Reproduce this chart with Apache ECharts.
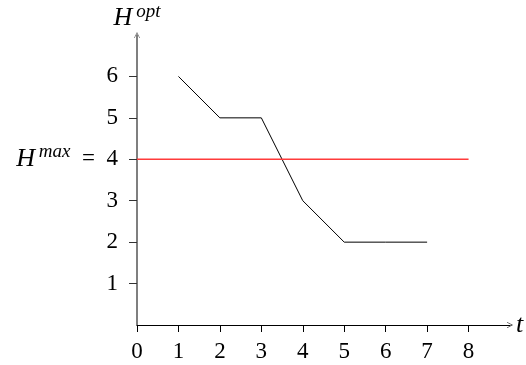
<!DOCTYPE html>
<html>
<head>
<meta charset="utf-8">
<script src="https://cdn.jsdelivr.net/npm/echarts@6/dist/echarts.min.js"></script>
<style>
  html, body { margin: 0; background: #fff; }
  #chart { width: 526px; height: 365px; }
</style>
</head>
<body>
<div id="chart"></div>
<script>
// data
const tValues = [1, 2, 3, 4, 5, 6, 7];
const hOpt = [6, 5, 5, 3, 2, 2, 2];
const hMax = 4;
const hMaxFrom = 0;
const hMaxTo = 8;
const xTicks = [0, 1, 2, 3, 4, 5, 6, 7, 8];
const yTicks = [1, 2, 3, 4, 5, 6];

const serif = '"Liberation Serif", "DejaVu Serif", serif';
const arrow = 'path://M0,10 L5,0 L10,10 L9,10 L5,2 L1,10 Z';

const chart = echarts.init(document.getElementById('chart'), null, { renderer: 'canvas' });

const mathRich = {
  h: { fontFamily: serif, fontStyle: 'italic', fontSize: 26, color: '#000' },
  sup: { fontFamily: serif, fontStyle: 'italic', fontSize: 19, color: '#000', padding: [0, 0, 14, 0] },
  n: { fontFamily: serif, fontSize: 23, color: '#000' }
};

const option = {
  animation: false,
  backgroundColor: '#fff',
  grid: { left: 137, right: 16, top: 35, bottom: 40, containLabel: false, outerBoundsMode: 'none' },
  xAxis: {
    type: 'value',
    min: 0,
    max: 9,
    interval: 1,
    splitLine: { show: false },
    axisLine: { lineStyle: { color: '#000', width: 1 }, symbol: ['none', arrow], symbolSize: [8, 6] },
    axisTick: { show: true, length: 7, inside: false, customValues: xTicks, lineStyle: { color: '#000' } },
    axisLabel: { customValues: xTicks, margin: 15, fontFamily: serif, fontSize: 23, color: '#000' },
    name: '{h|t}',
    nameLocation: 'end',
    nameGap: 6,
    nameTextStyle: { rich: mathRich, verticalAlign: 'middle' }
  },
  yAxis: {
    type: 'value',
    min: 0,
    max: 7,
    interval: 1,
    splitLine: { show: false },
    axisLine: { lineStyle: { color: '#555', width: 1.5 }, symbol: ['none', arrow], symbolSize: [8, 6] },
    axisTick: { show: true, length: 8, inside: false, customValues: yTicks, lineStyle: { color: '#333' } },
    axisLabel: {
      customValues: yTicks,
      margin: 19,
      fontFamily: serif,
      fontSize: 23,
      color: '#000',
      formatter: v => v === hMax ? '{h|H}{sup|\u2009max}{n|\u2002=\u2002' + v + '}' : '{n|' + v + '}',
      rich: mathRich
    },
    name: '{h|H}{sup|\u2009opt}',
    nameLocation: 'end',
    nameGap: 0,
    nameTextStyle: { rich: mathRich, align: 'center' }
  },
  series: [
    {
      type: 'line',
      data: tValues.map((t, i) => [t, hOpt[i]]),
      symbol: 'none',
      color: '#000',
      lineStyle: { color: '#000', width: 1 },
      silent: true
    },
    {
      type: 'line',
      data: [[hMaxFrom, hMax], [hMaxTo, hMax]],
      symbol: 'none',
      color: '#ff3b3b',
      itemStyle: { color: '#ff3b3b' },
      lineStyle: { color: '#ff3b3b', width: 1.5 },
      silent: true,
      z: 3
    }
  ]
};

chart.setOption(option);
</script>
</body>
</html>
